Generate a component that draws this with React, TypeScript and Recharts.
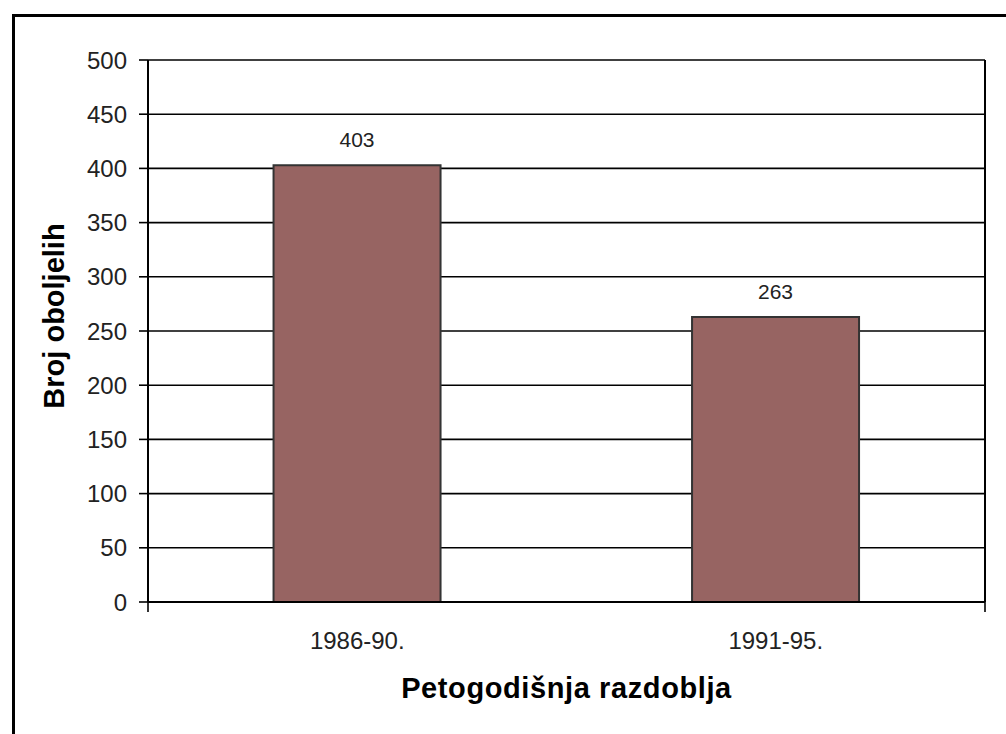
import { BarChart, Bar, XAxis, YAxis, CartesianGrid, LabelList, Label } from "recharts";

// five-year periods and number of cases
const periods = ["1986-90.", "1991-95."];
const cases = [403, 263];
const caseTicks = [0, 50, 100, 150, 200, 250, 300, 350, 400, 450, 500];
const periodEdges = [0, 1, 2];

const data = periods.map((period, i) => ({ period, cases: cases[i] }));

const FONT = '"Liberation Sans", Arial, Helvetica, sans-serif';
const INK = "#000";

function YTitle({ viewBox }: any) {
  const x = (viewBox?.x ?? 0) + 64;
  const y = (viewBox?.y ?? 0) + (viewBox?.height ?? 0) / 2 - 15;
  return (
    <text
      x={x}
      y={y}
      transform={`rotate(-90, ${x}, ${y})`}
      textAnchor="middle"
      fill="#000"
      style={{ fontSize: 29, fontWeight: 700, fontFamily: FONT }}
    >
      Broj oboljelih
    </text>
  );
}

// tick marks only, no text, on the category boundaries
const NoLabel = () => <g />;

export default function App() {
  return (
    <div
      style={{
        position: "absolute",
        left: 0,
        top: 0,
        width: 1006,
        height: 734,
        background: "#fff",
        overflow: "hidden",
        fontFamily: FONT,
      }}
    >
      <div
        style={{
          position: "absolute",
          left: 12,
          top: 14,
          width: 1100,
          height: 800,
          borderTop: "3px solid #000",
          borderLeft: "3px solid #000",
        }}
      />
      <div style={{ position: "absolute", left: 0, top: 0 }}>
        <BarChart
          width={1006}
          height={734}
          data={data}
          margin={{ top: 60, right: 0, bottom: 0, left: 0 }}
          barCategoryGap="30%"
        >
          <CartesianGrid vertical={false} stroke={INK} strokeWidth={1.6} yAxisId="cases" />
          <YAxis
            yAxisId="cases"
            width={148}
            domain={[0, 500]}
            ticks={caseTicks}
            interval={0}
            axisLine={{ stroke: INK, strokeWidth: 2 }}
            tickLine={{ stroke: INK, strokeWidth: 1.6 }}
            tickSize={9}
            tickMargin={12}
            tick={{ fill: "#222", fontSize: 24, fontFamily: FONT }}
          >
            <Label content={<YTitle />} />
          </YAxis>
          <YAxis
            yAxisId="frame"
            orientation="right"
            width={21}
            domain={[0, 500]}
            tick={false}
            tickLine={false}
            axisLine={{ stroke: INK, strokeWidth: 2 }}
          />
          <XAxis
            xAxisId="edges"
            type="number"
            domain={[0, 2]}
            ticks={periodEdges}
            interval={0}
            allowDataOverflow
            height={10}
            tick={NoLabel}
            tickSize={10}
            axisLine={{ stroke: INK, strokeWidth: 2 }}
            tickLine={{ stroke: INK, strokeWidth: 1.6 }}
          />
          <XAxis
            xAxisId="period"
            dataKey="period"
            height={122}
            axisLine={false}
            tickLine={false}
            tickSize={0}
            tickMargin={20}
            tick={{ fill: "#222", fontSize: 24, fontFamily: FONT }}
          >
            <Label
              value="Petogodišnja razdoblja"
              position="insideBottom"
              offset={36}
              style={{ fontSize: 29, fontWeight: 700, fontFamily: FONT, fill: "#000", letterSpacing: 0.6 }}
            />
          </XAxis>
          <Bar
            dataKey="cases"
            xAxisId="period"
            yAxisId="cases"
            fill="#976462"
            stroke="#333"
            strokeWidth={2}
            isAnimationActive={false}
          >
            <LabelList
              dataKey="cases"
              position="top"
              offset={18}
              fill="#222"
              style={{ fontSize: 21, fontFamily: FONT }}
            />
          </Bar>
        </BarChart>
      </div>
    </div>
  );
}
